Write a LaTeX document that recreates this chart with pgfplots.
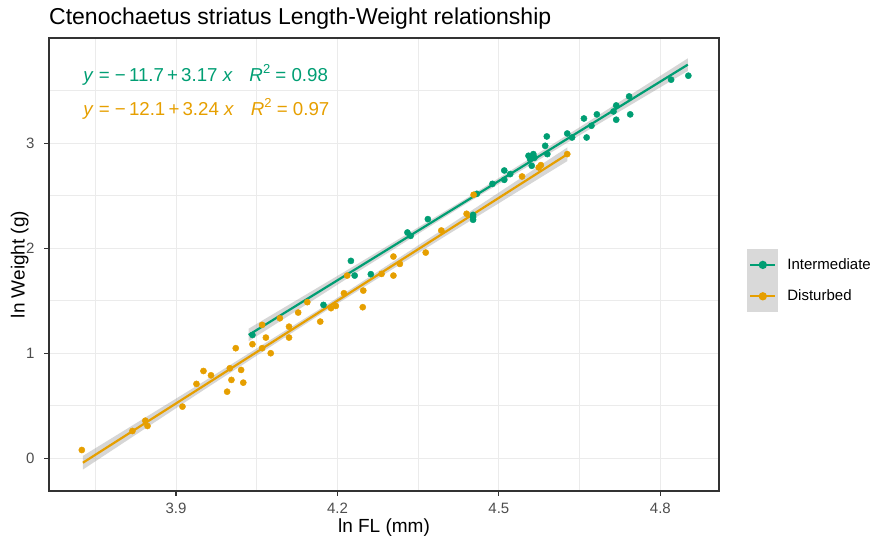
\documentclass[border=0pt]{standalone}
\usepackage{fontspec}
\setmainfont{Liberation Sans}
\usepackage{pgfplots}
\pgfplotsset{compat=1.18}
\definecolor{interm}{HTML}{009E73}
\definecolor{disturb}{HTML}{E69F00}
\definecolor{gridgray}{HTML}{EBEBEB}
\definecolor{framegray}{HTML}{333333}
\definecolor{ticklab}{HTML}{4D4D4D}
\definecolor{keygray}{HTML}{D9D9D9}
\definecolor{bandgray}{HTML}{999999}

\begin{document}
\begin{tikzpicture}[x=1bp,y=1bp]
\path[use as bounding box] (0,0) rectangle (873,542);
\node[anchor=base west, inner sep=0pt, font=\fontsize{23bp}{26bp}\selectfont]
  at (49,517) {Ctenochaetus striatus Length-Weight relationship};
\begin{axis}[
  at={(49bp,51bp)}, anchor=south west,
  width=670bp, height=453bp, scale only axis,
  xmin=3.664, xmax=4.909, ymin=-0.311, ymax=4.0,
  xtick={3.9,4.2,4.5,4.8}, xticklabels={3.9,4.2,4.5,4.8},
  ytick={0,1,2,3}, yticklabels={0,1,2,3},
  minor xtick={3.75,4.05,4.35,4.65},
  minor ytick={0.5,1.5,2.5,3.5},
  grid=both,
  major grid style={gridgray, line width=1bp},
  minor grid style={gridgray, line width=0.55bp},
  axis line style={framegray, line width=1.1bp},
  every tick/.style={framegray, line width=1.1bp},
  tick align=outside, tick pos=left,
  major tick length=4.7bp, minor tick length=0pt,
  /pgf/number format/assume math mode=true,
  tick label style={font=\fontsize{15bp}{18bp}\selectfont, text=ticklab},
  xticklabel style={inner sep=0pt, anchor=north, yshift=-7bp},
  yticklabel style={inner sep=0pt, anchor=east, xshift=-9.7bp},
  xlabel={ln FL (mm)},
  ylabel={ln Weight (g)},
  label style={font=\fontsize{19bp}{22bp}\selectfont},
  x label style={at={(axis description cs:0.5,-0.0916)}, anchor=base},
  y label style={at={(axis description cs:-0.0363,0.5)}, anchor=base},
  legend style={at={(1.0418,0.5342)}, anchor=north west, draw=none, fill=none,
    inner sep=0pt, row sep=0pt, column sep=9bp, nodes={inner sep=0pt},
    font=\fontsize{15bp}{18bp}\selectfont},
  legend cell align=left,
  legend image code/.code={
    \fill[keygray] (0bp,-14.6bp) rectangle (29bp,14.6bp);
    \draw[line width=2.2bp] (2bp,0bp) -- (27bp,0bp);
    \fill (14.5bp,0bp) circle (3bp);
  },
  clip=false,
]
% Intermediate points
\addplot[only marks, mark=*, mark size=3.1bp, interm, mark options={draw=none, fill=interm}, forget plot]
coordinates {
 (4.042,1.174) (4.174,1.460) (4.225,1.879) (4.232,1.739) (4.262,1.752)
 (4.330,2.149) (4.336,2.117) (4.368,2.276) (4.452,2.317) (4.452,2.270)
 (4.452,2.295) (4.459,2.517) (4.488,2.612) (4.510,2.739) (4.521,2.705)
 (4.510,2.650) (4.555,2.879) (4.558,2.847) (4.561,2.784) (4.564,2.895)
 (4.566,2.860) (4.586,2.974) (4.589,3.063) (4.590,2.895) (4.627,3.091)
 (4.636,3.053) (4.658,3.234) (4.663,3.053) (4.672,3.165) (4.682,3.273)
 (4.713,3.301) (4.718,3.358) (4.718,3.222) (4.742,3.444) (4.744,3.273)
 (4.820,3.603) (4.852,3.641)
};
% Disturbed points
\addplot[only marks, mark=*, mark size=3.1bp, disturb, mark options={draw=none, fill=disturb}, forget plot]
coordinates {
 (3.725,0.079) (3.819,0.260) (3.843,0.358) (3.847,0.308) (3.912,0.492)
 (3.938,0.708) (3.951,0.831) (3.965,0.790) (3.995,0.634) (4.000,0.857)
 (4.003,0.746) (4.021,0.841) (4.025,0.720) (4.011,1.048) (4.042,1.086)
 (4.060,1.270) (4.067,1.149) (4.076,1.000) (4.060,1.048) (4.093,1.333)
 (4.110,1.253) (4.110,1.149) (4.127,1.387) (4.144,1.486) (4.168,1.301)
 (4.188,1.429) (4.197,1.450) (4.212,1.571) (4.218,1.739) (4.247,1.438)
 (4.248,1.596) (4.282,1.755) (4.304,1.739) (4.304,1.920) (4.316,1.850)
 (4.364,1.958) (4.393,2.168) (4.440,2.327) (4.453,2.508) (4.543,2.682)
 (4.574,2.768) (4.578,2.790) (4.627,2.895)
};
% confidence bands
\addplot[draw=none, fill=bandgray, fill opacity=0.4, forget plot]
coordinates {(4.035,1.114) (4.239,1.779) (4.443,2.435) (4.647,3.065) (4.851,3.686)
 (4.851,3.806) (4.647,3.141) (4.443,2.485) (4.239,1.855) (4.035,1.234)} -- cycle;
\addplot[draw=none, fill=bandgray, fill opacity=0.4, forget plot]
coordinates {(3.727,-0.107) (3.952,0.652) (4.177,1.398) (4.402,2.119) (4.627,2.828)
 (4.627,2.958) (4.402,2.199) (4.177,1.452) (3.952,0.732) (3.727,0.023)} -- cycle;
% fitted lines
\addplot[interm, line width=2.2bp] coordinates {(4.035,1.174) (4.851,3.746)};
\addlegendentry{Intermediate}
\addplot[disturb, line width=2.2bp] coordinates {(3.727,-0.042) (4.627,2.893)};
\addlegendentry{Disturbed}
% equations
\node[anchor=west, inner sep=0pt, text=interm, font=\fontsize{18.7bp}{22bp}\selectfont]
  at (axis cs:3.7275,3.650) {\textit{y} = −\,11.7\,+\,3.17 \textit{x}\hspace{0.9em}\textit{R}\raisebox{0.45em}{\fontsize{13bp}{14bp}\selectfont 2} = 0.98};
\node[anchor=west, inner sep=0pt, text=disturb, font=\fontsize{18.7bp}{22bp}\selectfont]
  at (axis cs:3.7275,3.327) {\textit{y} = −\,12.1\,+\,3.24 \textit{x}\hspace{0.9em}\textit{R}\raisebox{0.45em}{\fontsize{13bp}{14bp}\selectfont 2} = 0.97};
\end{axis}
\end{tikzpicture}
\end{document}
